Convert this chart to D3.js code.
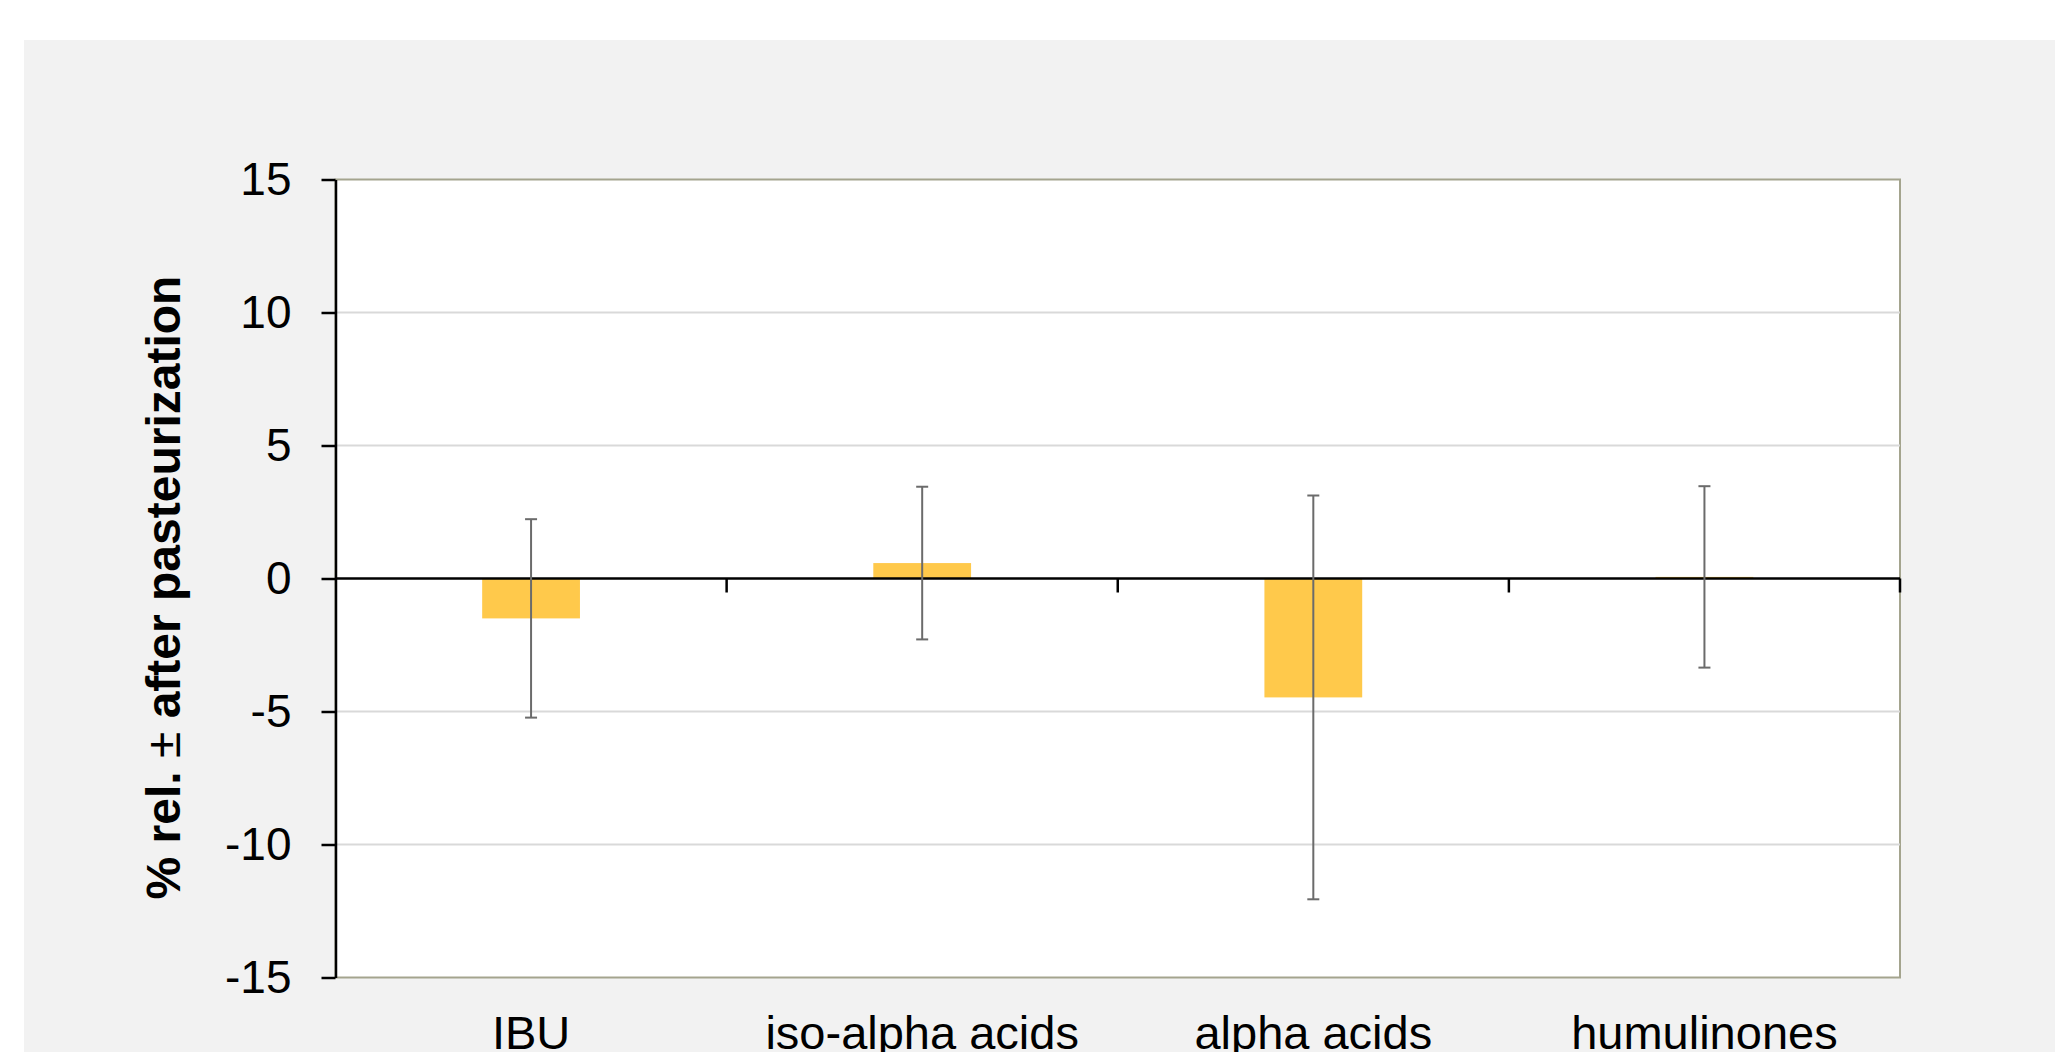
<!DOCTYPE html>
<html>
<head>
<meta charset="utf-8">
<script src="https://cdn.jsdelivr.net/npm/d3@7"></script>
<style>
  body { margin: 0; background: #ffffff; }
  svg { display: block; }
  text { font-family: "Liberation Sans", Arial, sans-serif; fill: #000; }
</style>
</head>
<body>
<script>
// categorie sull'asse x
var categories = ["IBU", "iso-alpha acids", "alpha acids", "humulinones"];
// variazione % dopo la pastorizzazione
var values = [-1.5, 0.58, -4.47, 0.06];
// deviazione standard (barre d'errore)
var errors = [3.73, 2.87, 7.59, 3.41];
// tick dell'asse y
var yTicks = [-15, -10, -5, 0, 5, 10, 15];
var yTickLabels = ["-15", "-10", "-5", "0", "5", "10", "15"];
var yTitle = "% rel.";
var yTitleSign = "±";
var yTitleRest = "after pasteurization";

var width = 2055, height = 1052;
var plot = { left: 335.5, right: 1900, top: 179.5, bottom: 977.5 };

var svg = d3.select("body").append("svg")
  .attr("width", width)
  .attr("height", height);

// sfondo grigio del grafico
svg.append("rect")
  .attr("x", 24).attr("y", 40)
  .attr("width", width - 24).attr("height", height - 40)
  .attr("fill", "#f2f2f2");

// area del plot
svg.append("rect")
  .attr("x", plot.left).attr("y", plot.top)
  .attr("width", plot.right - plot.left).attr("height", plot.bottom - plot.top)
  .attr("fill", "#ffffff")
  .attr("stroke", "#a4a48e")
  .attr("stroke-width", 2);

var x = d3.scaleBand()
  .domain(categories)
  .range([plot.left, plot.right])
  .paddingInner(0.75)
  .paddingOuter(0.375);

// scala senza padding per i tick tra le categorie
var xSlots = d3.scaleBand()
  .domain(categories)
  .range([plot.left, plot.right]);

var y = d3.scaleLinear()
  .domain([-15, 15])
  .range([plot.bottom, plot.top]);

// griglia
svg.append("g")
  .selectAll("line")
  .data(yTicks.filter(function(d) { return d !== 0 && d !== 15 && d !== -15; }))
  .enter()
  .append("line")
  .attr("x1", plot.left).attr("x2", plot.right)
  .attr("y1", function(d) { return y(d); })
  .attr("y2", function(d) { return y(d); })
  .attr("stroke", "#d9d9d9")
  .attr("stroke-width", 2);

// barre
svg.append("g")
  .selectAll("rect")
  .data(categories)
  .enter()
  .append("rect")
  .attr("x", function(d) { return x(d); })
  .attr("width", x.bandwidth())
  .attr("y", function(d, i) { return y(Math.max(0, values[i])); })
  .attr("height", function(d, i) { return Math.abs(y(values[i]) - y(0)); })
  .attr("fill", "#ffc94b");

// asse dello zero con i tick
var zero = svg.append("g");
zero.append("line")
  .attr("x1", plot.left).attr("x2", plot.right)
  .attr("y1", y(0)).attr("y2", y(0))
  .attr("stroke", "#000").attr("stroke-width", 2.5);
zero.selectAll(".tk")
  .data(categories.slice(1).map(function(d) { return xSlots(d); }).concat([plot.right]))
  .enter()
  .append("line")
  .attr("class", "tk")
  .attr("x1", function(d) { return d; })
  .attr("x2", function(d) { return d; })
  .attr("y1", y(0)).attr("y2", y(0) + 14)
  .attr("stroke", "#000").attr("stroke-width", 2.5);

// barre d'errore
var eb = svg.append("g")
  .selectAll("g")
  .data(categories)
  .enter()
  .append("g")
  .attr("stroke", "#6b6b6b")
  .attr("stroke-width", 2);

eb.append("line")
  .attr("x1", function(d) { return x(d) + x.bandwidth() / 2; })
  .attr("x2", function(d) { return x(d) + x.bandwidth() / 2; })
  .attr("y1", function(d, i) { return y(values[i] + errors[i]); })
  .attr("y2", function(d, i) { return y(values[i] - errors[i]); });

eb.append("line")
  .attr("x1", function(d) { return x(d) + x.bandwidth() / 2 - 6; })
  .attr("x2", function(d) { return x(d) + x.bandwidth() / 2 + 6; })
  .attr("y1", function(d, i) { return y(values[i] + errors[i]); })
  .attr("y2", function(d, i) { return y(values[i] + errors[i]); });

eb.append("line")
  .attr("x1", function(d) { return x(d) + x.bandwidth() / 2 - 6; })
  .attr("x2", function(d) { return x(d) + x.bandwidth() / 2 + 6; })
  .attr("y1", function(d, i) { return y(values[i] - errors[i]); })
  .attr("y2", function(d, i) { return y(values[i] - errors[i]); });

// asse y
var yAxis = svg.append("g")
  .attr("transform", "translate(" + plot.left + ",0)")
  .call(d3.axisLeft(y)
    .tickValues(yTicks)
    .tickFormat(function(d, i) { return yTickLabels[i]; })
    .tickSize(14)
    .tickSizeOuter(0)
    .tickPadding(30));
yAxis.select(".domain").attr("stroke", "#000").attr("stroke-width", 2.5);
yAxis.selectAll(".tick line").attr("stroke", "#000").attr("stroke-width", 2.5);
yAxis.selectAll(".tick text")
  .attr("font-size", 46)
  .attr("font-family", "Liberation Sans, Arial, sans-serif")
  .attr("fill", "#000");

// etichette asse x
svg.append("g")
  .selectAll("text")
  .data(categories)
  .enter()
  .append("text")
  .attr("x", function(d) { return x(d) + x.bandwidth() / 2; })
  .attr("y", 1049)
  .attr("text-anchor", "middle")
  .attr("font-size", 47)
  .text(function(d) { return d; });

// titolo asse y
var title = svg.append("text")
  .attr("transform", "translate(179.5,587.5) rotate(-90)")
  .attr("text-anchor", "middle")
  .attr("font-size", 48)
  .attr("font-weight", "bold");
title.append("tspan").text(yTitle + "  ");
title.append("tspan").attr("font-weight", "normal").text(yTitleSign);
title.append("tspan").text("  " + yTitleRest);
</script>
</body>
</html>
